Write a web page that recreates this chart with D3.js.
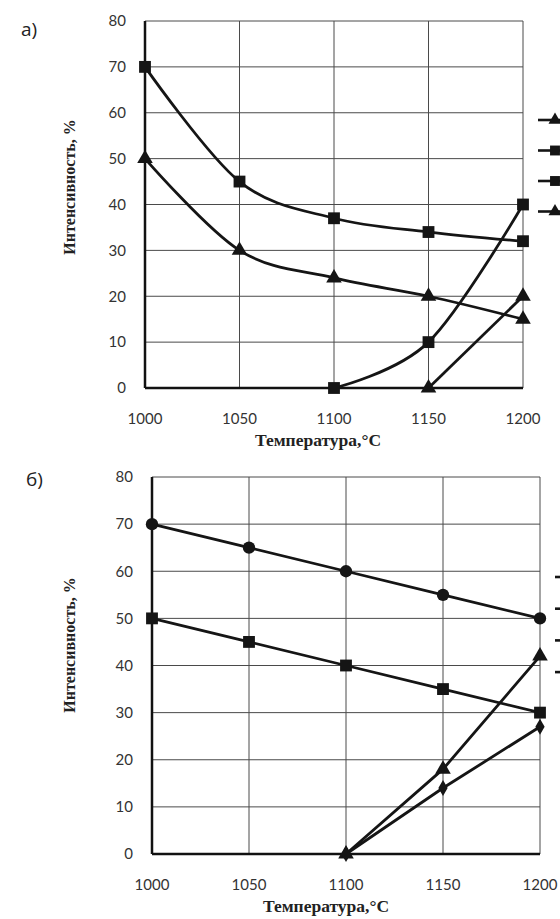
<!DOCTYPE html>
<html>
<head>
<meta charset="utf-8">
<script src="https://cdn.jsdelivr.net/npm/d3@7"></script>
<style>
  html, body { margin: 0; padding: 0; background: #fff; overflow: hidden; }
  svg { display: block; }
  .tick-label { font-family: Lato, "Open Sans", sans-serif; font-size: 15px; fill: #333; }
  .axis-title { font-family: "Liberation Serif", "DejaVu Serif", serif; font-weight: bold; font-size: 16px; fill: #222; }
  .x-title { font-size: 17.5px; }
  .panel-label { font-family: "Open Sans", "Liberation Sans", sans-serif; font-size: 19px; fill: #222; }
</style>
</head>
<body>
<div id="chart"></div>
<script>
// shared axes
var temps = [1000, 1050, 1100, 1150, 1200];
var yTicks = [0, 10, 20, 30, 40, 50, 60, 70, 80];

// panel a) values (null = no point)
var aSquareHigh = [70, 45, 37, 34, 32];
var aTriangleHigh = [50, 30, 24, 20, 15];
var aSquareRise = [null, null, 0, 10, 40];
var aTriangleRise = [null, null, null, 0, 20];
var aLegendSymbols = ["triangle", "square", "square", "triangle"];

// panel b) values
var bCircle = [70, 65, 60, 55, 50];
var bSquare = [50, 45, 40, 35, 30];
var bTriangle = [null, null, 0, 18, 42];
var bDiamond = [null, null, 0, 14, 27];

var W = 560, H = 919;

var svg = d3.select("#chart").append("svg")
    .attr("width", W)
    .attr("height", H);

var symbolTypes = {
    square: d3.symbolSquare,
    triangle: d3.symbolTriangle,
    circle: d3.symbolCircle,
    diamond: d3.symbolDiamond
};
var symbolSizes = { square: 140, triangle: 105, circle: 120, diamond: 75 };

function drawPanel(p) {
    var x = d3.scaleLinear().domain([1000, 1200]).range([p.left, p.right]);
    var y = d3.scaleLinear().domain([0, 80]).range([p.bottom, p.top]);
    var g = svg.append("g");

    // grid
    g.selectAll("line.hgrid").data(yTicks).enter().append("line")
        .attr("x1", p.left).attr("x2", p.right)
        .attr("y1", function (d) { return y(d); })
        .attr("y2", function (d) { return y(d); })
        .attr("stroke", "#4a4a4a").attr("stroke-width", 1);
    g.selectAll("line.vgrid").data(temps).enter().append("line")
        .attr("y1", p.top).attr("y2", p.bottom)
        .attr("x1", function (d) { return x(d); })
        .attr("x2", function (d) { return x(d); })
        .attr("stroke", "#4a4a4a").attr("stroke-width", 1);

    // main axes (thicker)
    g.append("line").attr("x1", p.left).attr("x2", p.left)
        .attr("y1", p.top).attr("y2", p.bottom)
        .attr("stroke", "#111").attr("stroke-width", 2.5);
    g.append("line").attr("x1", p.left).attr("x2", p.right)
        .attr("y1", p.bottom).attr("y2", p.bottom)
        .attr("stroke", "#111").attr("stroke-width", 2.5);

    // tick labels
    g.selectAll("text.yt").data(yTicks).enter().append("text")
        .attr("class", "tick-label")
        .attr("x", p.left - 19)
        .attr("y", function (d) { return y(d); })
        .attr("dy", "0.35em")
        .attr("text-anchor", "end")
        .text(function (d) { return d; });
    g.selectAll("text.xt").data(temps).enter().append("text")
        .attr("class", "tick-label")
        .attr("x", function (d) { return x(d); })
        .attr("y", p.bottom + p.xLabelGap)
        .attr("dy", "0.35em")
        .attr("text-anchor", "middle")
        .text(function (d) { return d; });

    // titles
    g.append("text").attr("class", "axis-title x-title")
        .attr("x", p.xTitleX).attr("y", p.xTitleY)
        .attr("text-anchor", "middle")
        .text("Температура,°С");
    g.append("text").attr("class", "axis-title")
        .attr("transform", "translate(" + p.yTitleX + "," + p.yTitleY + ") rotate(-90)")
        .attr("text-anchor", "middle")
        .text("Интенсивность, %");
    g.append("text").attr("class", "panel-label")
        .attr("x", p.labelX).attr("y", p.labelY)
        .text(p.label);

    // series
    p.series.forEach(function (s) {
        var pts = temps.map(function (t, i) { return { t: t, v: s.values[i] }; })
            .filter(function (d) { return d.v !== null; });
        var line = d3.line()
            .x(function (d) { return x(d.t); })
            .y(function (d) { return y(d.v); })
            .curve(p.curve);
        g.append("path").datum(pts)
            .attr("d", line)
            .attr("fill", "none")
            .attr("stroke", "#151515")
            .attr("stroke-width", 2.8);
        g.selectAll(null).data(pts).enter().append("path")
            .attr("transform", function (d) { return "translate(" + x(d.t) + "," + y(d.v) + ")"; })
            .attr("d", d3.symbol().type(symbolTypes[s.symbol]).size(symbolSizes[s.symbol]))
            .attr("fill", "#151515");
    });

    // legend (labels fall outside the picture)
    var lg = g.selectAll("g.legend").data(p.legend).enter().append("g")
        .attr("transform", function (d, i) { return "translate(" + p.legendX + "," + (p.legendY + i * p.legendStep) + ")"; });
    lg.append("line").attr("x1", 0).attr("x2", 30)
        .attr("stroke", "#151515").attr("stroke-width", 2.6);
    lg.filter(function (d) { return d; }).append("path")
        .attr("transform", "translate(17,0)")
        .attr("d", function (d) { return d3.symbol().type(symbolTypes[d]).size(symbolSizes[d] * 0.7)(); })
        .attr("fill", "#151515");
}

drawPanel({
    left: 145, right: 523, top: 21, bottom: 388,
    xLabelGap: 31,
    xTitleX: 318, xTitleY: 446,
    yTitleX: 75, yTitleY: 187,
    label: "а)", labelX: 21, labelY: 36,
    curve: d3.curveCardinal.tension(0),
    series: [
        { values: aSquareHigh, symbol: "square" },
        { values: aTriangleHigh, symbol: "triangle" },
        { values: aSquareRise, symbol: "square" },
        { values: aTriangleRise, symbol: "triangle" }
    ],
    legend: aLegendSymbols,
    legendX: 538, legendY: 120, legendStep: 30.5
});

drawPanel({
    left: 152, right: 540, top: 477, bottom: 854,
    xLabelGap: 31,
    xTitleX: 326, xTitleY: 912,
    yTitleX: 75, yTitleY: 645,
    label: "б)", labelX: 26, labelY: 486,
    curve: d3.curveLinear,
    series: [
        { values: bCircle, symbol: "circle" },
        { values: bSquare, symbol: "square" },
        { values: bTriangle, symbol: "triangle" },
        { values: bDiamond, symbol: "diamond" }
    ],
    legend: [null, null, null, null],
    legendX: 555, legendY: 577, legendStep: 31.7
});
</script>
</body>
</html>
